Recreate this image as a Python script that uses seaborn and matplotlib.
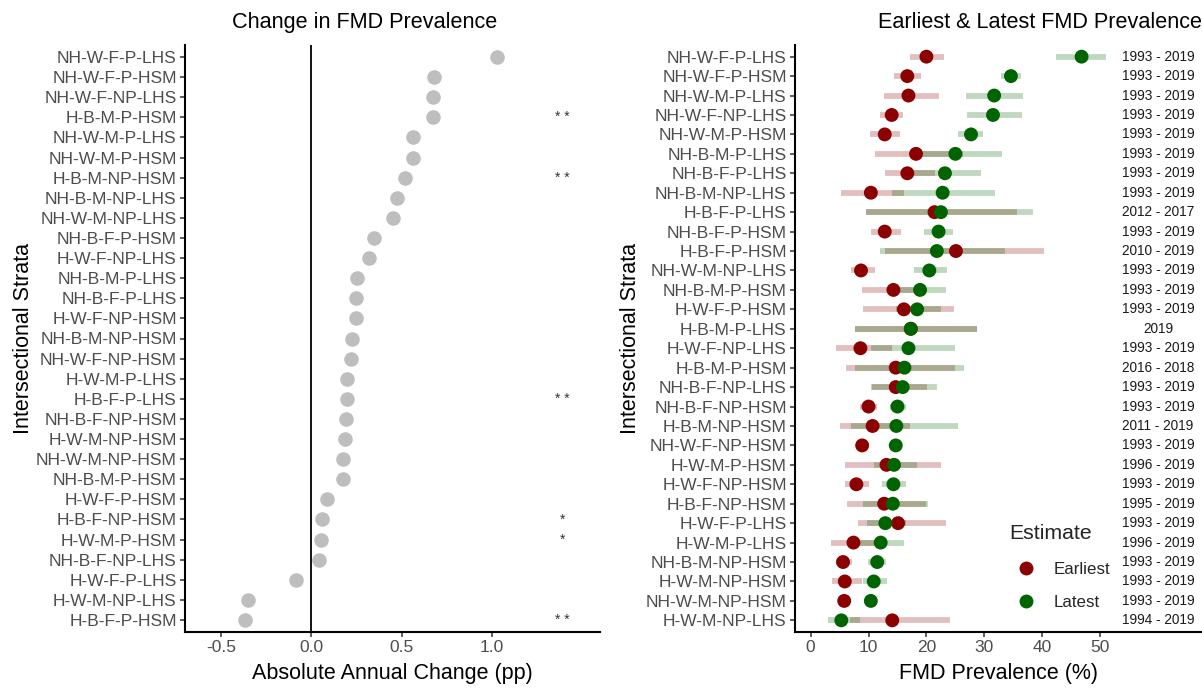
import numpy as np
import pandas as pd
import matplotlib
matplotlib.use("Agg")
import matplotlib.pyplot as plt
import seaborn as sns

# ---- Left panel: absolute annual change in FMD prevalence (pp) ----
strata_change = [
    "NH-W-F-P-LHS", "NH-W-F-P-HSM", "NH-W-F-NP-LHS", "H-B-M-P-HSM",
    "NH-W-M-P-LHS", "NH-W-M-P-HSM", "H-B-M-NP-HSM", "NH-B-M-NP-LHS",
    "NH-W-M-NP-LHS", "NH-B-F-P-HSM", "H-W-F-NP-LHS", "NH-B-M-P-LHS",
    "NH-B-F-P-LHS", "H-W-F-NP-HSM", "NH-B-M-NP-HSM", "NH-W-F-NP-HSM",
    "H-W-M-P-LHS", "H-B-F-P-LHS", "NH-B-F-NP-HSM", "H-W-M-NP-HSM",
    "NH-W-M-NP-HSM", "NH-B-M-P-HSM", "H-W-F-P-HSM", "H-B-F-NP-HSM",
    "H-W-M-P-HSM", "NH-B-F-NP-LHS", "H-W-F-P-LHS", "H-W-M-NP-LHS",
    "H-B-F-P-HSM",
]
annual_change = [
    1.03, 0.68, 0.675, 0.672, 0.565, 0.563, 0.52, 0.475, 0.45, 0.35,
    0.317, 0.255, 0.25, 0.245, 0.227, 0.221, 0.198, 0.197, 0.193, 0.189,
    0.176, 0.175, 0.087, 0.057, 0.053, 0.042, -0.087, -0.35, -0.37,
]
change_signif = [
    "", "", "", "* *", "", "", "* *", "", "", "", "", "", "", "", "",
    "", "", "* *", "", "", "", "", "", "*", "*", "", "", "", "* *",
]
signif_x = 1.39

# ---- Right panel: earliest and latest FMD prevalence (%) with CIs ----
strata_prev = [
    "NH-W-F-P-LHS", "NH-W-F-P-HSM", "NH-W-M-P-LHS", "NH-W-F-NP-LHS",
    "NH-W-M-P-HSM", "NH-B-M-P-LHS", "NH-B-F-P-LHS", "NH-B-M-NP-LHS",
    "H-B-F-P-LHS", "NH-B-F-P-HSM", "H-B-F-P-HSM", "NH-W-M-NP-LHS",
    "NH-B-M-P-HSM", "H-W-F-P-HSM", "H-B-M-P-LHS", "H-W-F-NP-LHS",
    "H-B-M-P-HSM", "NH-B-F-NP-LHS", "NH-B-F-NP-HSM", "H-B-M-NP-HSM",
    "NH-W-F-NP-HSM", "H-W-M-P-HSM", "H-W-F-NP-HSM", "H-B-F-NP-HSM",
    "H-W-F-P-LHS", "H-W-M-P-LHS", "NH-B-M-NP-HSM", "H-W-M-NP-HSM",
    "NH-W-M-NP-HSM", "H-W-M-NP-LHS",
]
earliest = [20.0, 16.7, 16.9, 14.0, 12.8, 18.2, 16.7, 10.4, 21.4, 12.8,
            25.1, 8.7, 14.3, 16.1, 17.3, 8.6, 14.7, 14.7, 10.0, 10.7,
            8.9, 13.1, 7.9, 12.7, 15.1, 7.4, 5.6, 5.9, 5.8, 14.1]
earliest_lo = [17.2, 14.4, 12.6, 12.0, 10.3, 11.1, 12.8, 5.2, 9.5, 10.4,
               12.8, 6.9, 8.8, 9.0, 7.7, 4.4, 6.1, 10.4, 8.5, 5.0,
               8.3, 6.0, 6.0, 6.2, 8.2, 3.6, 4.4, 3.7, 5.3, 6.8]
earliest_hi = [23.1, 19.1, 22.1, 16.0, 15.4, 26.4, 21.4, 16.2, 35.6, 15.6,
               40.3, 11.2, 19.1, 24.8, 28.8, 14.1, 25.0, 20.1, 11.5, 17.2,
               9.5, 22.5, 10.1, 20.0, 23.4, 11.5, 7.2, 8.8, 6.3, 24.1]
latest = [46.8, 34.6, 31.7, 31.5, 27.7, 25.0, 23.2, 22.8, 22.5, 22.1,
          21.8, 20.5, 18.9, 18.4, 17.3, 16.9, 16.2, 15.9, 15.0, 14.8,
          14.7, 14.4, 14.3, 14.2, 12.9, 12.1, 11.5, 10.9, 10.4, 5.3]
latest_lo = [42.3, 32.9, 26.8, 27.0, 25.5, 18.9, 17.7, 14.1, 9.6, 19.5,
             12.0, 17.8, 15.1, 14.8, 7.7, 10.5, 7.7, 10.6, 13.7, 7.0,
             14.2, 11.0, 12.3, 9.0, 9.7, 8.2, 9.9, 9.1, 10.0, 3.0]
latest_hi = [51.1, 36.4, 36.6, 36.5, 29.7, 33.1, 29.4, 31.8, 38.4, 24.6,
             33.6, 23.6, 23.3, 22.5, 28.8, 25.0, 26.5, 21.9, 16.4, 25.5,
             15.2, 18.4, 16.5, 20.3, 16.5, 16.2, 13.1, 13.2, 10.8, 8.6]
year_span = ["1993 - 2019"] * 8 + ["2012 - 2017", "1993 - 2019", "2010 - 2019",
             "1993 - 2019", "1993 - 2019", "1993 - 2019", "2019", "1993 - 2019",
             "2016 - 2018", "1993 - 2019", "1993 - 2019", "2011 - 2019",
             "1993 - 2019", "1996 - 2019", "1993 - 2019", "1995 - 2019",
             "1993 - 2019", "1996 - 2019", "1993 - 2019", "1993 - 2019",
             "1993 - 2019", "1994 - 2019"]
year_x = 60

estimate_colors = {"Earliest": "#8B0000", "Latest": "#006400"}

# ---- Styling ----
sns.set_theme(style="ticks")
plt.rcParams["font.family"] = ["Liberation Sans", "DejaVu Sans"]

W, H = 1202, 689
fig = plt.figure(figsize=(W / 100, H / 100), dpi=100)


def px_axes(x0, x1, y0, y1):
    return fig.add_axes([x0 / W, 1 - y1 / H, (x1 - x0) / W, (y1 - y0) / H])


ax1 = px_axes(185, 600, 45, 632)
ax2 = px_axes(795, 1202, 45, 632)

TICK_COLOR = "#4D4D4D"
for ax in (ax1, ax2):
    sns.despine(ax=ax)
    for side in ("left", "bottom"):
        ax.spines[side].set_linewidth(1.5)
        ax.spines[side].set_color("black")
    ax.tick_params(labelsize=12.5, labelcolor=TICK_COLOR, color="#333333",
                   length=3.5, width=1.1, pad=2.5)

# ---- Left panel ----
n1 = len(strata_change)
df_change = pd.DataFrame({"stratum": strata_change,
                          "change": annual_change,
                          "pos": np.arange(n1)})
ax1.axvline(0, color="black", lw=1.3, zorder=2)
sns.scatterplot(data=df_change, x="change", y="pos", color="#BEBEBE",
                s=110, linewidth=0, ax=ax1, zorder=3, legend=False)
for pos, mark in enumerate(change_signif):
    if mark:
        ax1.text(signif_x, pos, mark, ha="center", va="center",
                 fontsize=10, color="#333333")
ax1.set_xlim(-0.70, 1.60)
ax1.set_ylim(n1 - 1 + 0.6, -0.6)
ax1.set_yticks(range(n1), strata_change)
ax1.set_xticks([-0.5, 0.0, 0.5, 1.0], ["-0.5", "0.0", "0.5", "1.0"])
ax1.set_xlabel("Absolute Annual Change (pp)", fontsize=15.5, color="black")
ax1.set_ylabel("Intersectional Strata", fontsize=15.5, color="black")
ax1.set_title("Change in FMD Prevalence", fontsize=15.6, pad=12,
              color="black", x=(365 - 185) / 415)

# ---- Right panel ----
n2 = len(strata_prev)
pos2 = np.arange(n2)
ax2.hlines(pos2, earliest_lo, earliest_hi, color=estimate_colors["Earliest"],
           alpha=0.25, lw=4.2, zorder=1)
ax2.hlines(pos2, latest_lo, latest_hi, color=estimate_colors["Latest"],
           alpha=0.25, lw=4.2, zorder=1)
df_prev = pd.concat([
    pd.DataFrame({"stratum": strata_prev, "value": earliest,
                  "Estimate": "Earliest", "pos": pos2}),
    pd.DataFrame({"stratum": strata_prev, "value": latest,
                  "Estimate": "Latest", "pos": pos2}),
], ignore_index=True)
sns.scatterplot(data=df_prev, x="value", y="pos", hue="Estimate",
                palette=estimate_colors, s=100, linewidth=0, ax=ax2, zorder=3)
for pos, yr in enumerate(year_span):
    ax2.text(year_x, pos, yr, ha="center", va="center", fontsize=9.8,
             color="#1A1A1A", clip_on=False)
ax2.set_xlim(-2.7, 67.6)
ax2.set_ylim(n2 - 1 + 0.6, -0.6)
ax2.set_yticks(range(n2), strata_prev)
ax2.set_xticks([0, 10, 20, 30, 40, 50])
ax2.set_xlabel("FMD Prevalence (%)", fontsize=15.5, color="black")
ax2.set_ylabel("Intersectional Strata", fontsize=15.5, color="black")
ax2.set_title("Earliest & Latest FMD Prevalence", fontsize=15.6, pad=12,
              color="black", x=(1040 - 795) / 407)

handles, labels = ax2.get_legend_handles_labels()
leg = ax2.legend(handles, labels, title="Estimate", loc="upper left",
                 bbox_to_anchor=(1009 / W, 1 - 524 / H),
                 bbox_transform=fig.transFigure, frameon=False,
                 fontsize=12.2, title_fontsize=15.3, alignment="left",
                 borderpad=0, handletextpad=0.65, labelspacing=1.1,
                 borderaxespad=0, markerscale=1.0)

# axis label placement (figure pixel coordinates)
ax1.yaxis.set_label_coords(34 / W, 1 - 338.5 / H, transform=fig.transFigure)
ax2.yaxis.set_label_coords(641 / W, 1 - 338.5 / H, transform=fig.transFigure)
ax1.xaxis.set_label_coords(392.5 / W, 1 - 663.5 / H, transform=fig.transFigure)
ax2.xaxis.set_label_coords(998.5 / W, 1 - 663.5 / H, transform=fig.transFigure)

fig.savefig("out.png", dpi=100)
